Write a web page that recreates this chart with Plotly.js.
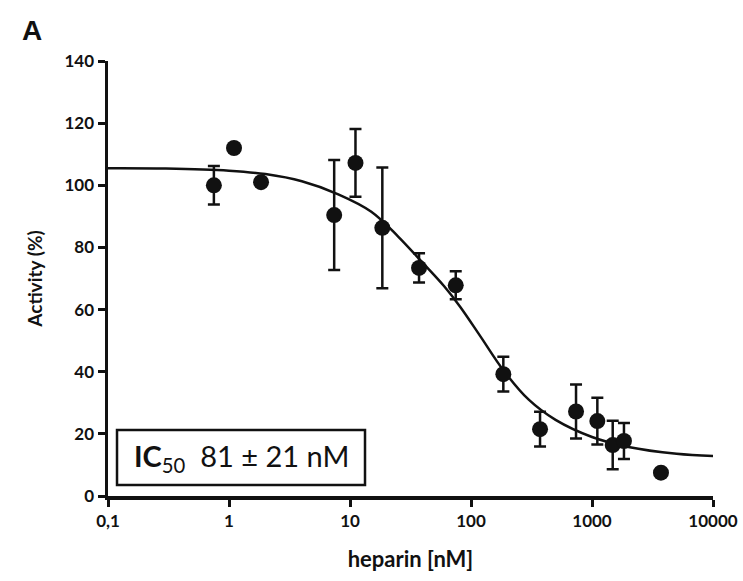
<!DOCTYPE html>
<html>
<head>
<meta charset="utf-8">
<script src="https://cdn.plot.ly/plotly-3.0.1.min.js"></script>
<style>html,body{margin:0;padding:0;background:#fff;}#chart{width:743px;height:581px;}</style>
</head>
<body>
<div id="chart"></div>
<script>
// Measured data (heparin concentration in nM, activity in %)
const heparinNM = [0.75, 1.1, 1.84, 7.4, 11.1, 18.5, 37.2, 74.8, 185, 372, 738, 1107, 1483, 1837, 3715];
const activity  = [100, 112, 101, 90.4, 107.2, 86.3, 73.4, 67.8, 39.2, 21.5, 27.2, 24.1, 16.4, 17.7, 7.5];
const activityErr = [6.2, 0, 0, 17.7, 10.9, 19.4, 4.7, 4.5, 5.6, 5.6, 8.7, 7.5, 7.8, 5.8, 0];

// Fitted dose-response curve
const fitX = [0.1, 0.3, 1, 2, 4, 8, 15, 25, 40, 60, 81, 120, 185, 300, 500, 1000, 2000, 5000, 10000];
const fitY = [105.5, 105.4, 104.7, 103.6, 101.3, 97.1, 91.5, 83.5, 75, 67.5, 61, 51.3, 40.5, 31, 24.5, 19, 15.8, 13.6, 12.9];

// Axis ticks
const xTickVals = [0.1, 1, 10, 100, 1000, 10000];
const xTickText = ["0,1", "1", "10", "100", "1000", "10000"];
const yTickVals = [0, 20, 40, 60, 80, 100, 120, 140];

const fontFam = "Lato, 'Open Sans', sans-serif";

const traces = [
  {
    x: fitX, y: fitY, type: "scatter", mode: "lines",
    line: {color: "#111", width: 2.5, shape: "spline"},
    hoverinfo: "skip", showlegend: false
  },
  {
    x: heparinNM, y: activity, type: "scatter", mode: "markers",
    marker: {color: "#111", size: 16, symbol: "circle"},
    error_y: {type: "data", array: activityErr, visible: true, color: "#111", thickness: 2.5, width: 6},
    showlegend: false
  }
];

const layout = {
  width: 743, height: 581,
  margin: {l: 108, r: 30, t: 61, b: 85},
  paper_bgcolor: "#fff", plot_bgcolor: "#fff",
  font: {family: fontFam, color: "#111"},
  xaxis: {
    type: "log", range: [-1, 4],
    tickvals: xTickVals, ticktext: xTickText,
    ticks: "outside", ticklen: 7, tickwidth: 3, tickcolor: "#111",
    showline: true, linecolor: "#111", linewidth: 3.5,
    showgrid: false, zeroline: false,
    tickfont: {family: fontFam, size: 17, weight: "bold", color: "#111"},
    title: {text: "<b>heparin [nM]</b>", font: {family: fontFam, size: 22, color: "#111"}, standoff: 22}
  },
  yaxis: {
    range: [0, 140],
    tickvals: yTickVals,
    ticks: "outside", ticklen: 7, tickwidth: 3, tickcolor: "#111",
    showline: true, linecolor: "#111", linewidth: 3.5,
    showgrid: false, zeroline: false,
    tickfont: {family: fontFam, size: 17, weight: "bold", color: "#111"},
    title: {text: "<b>Activity (%)</b>", font: {family: fontFam, size: 19, color: "#111"}, standoff: 18}
  },
  shapes: [
    {type: "rect", xref: "paper", yref: "paper", x0: 0.0149, x1: 0.4248, y0: 0.0253, y1: 0.1517,
     line: {color: "#111", width: 2.5}, fillcolor: "#fff", layer: "above"}
  ],
  annotations: [
    {xref: "paper", yref: "paper", x: 0.22, y: 0.0885, xanchor: "center", yanchor: "middle",
     text: "<b>IC</b><sub>50</sub>  81 ± 21 nM", showarrow: false,
     font: {family: fontFam, size: 29, color: "#111"}},
    {xref: "paper", yref: "paper", x: -0.145, y: 1.069, xanchor: "left", yanchor: "middle",
     text: "<b>A</b>", showarrow: false,
     font: {family: "'Liberation Sans', Arial, sans-serif", size: 28, color: "#111"}}
  ]
};

Plotly.newPlot("chart", traces, layout, {displayModeBar: false, staticPlot: true});
</script>
</body>
</html>
